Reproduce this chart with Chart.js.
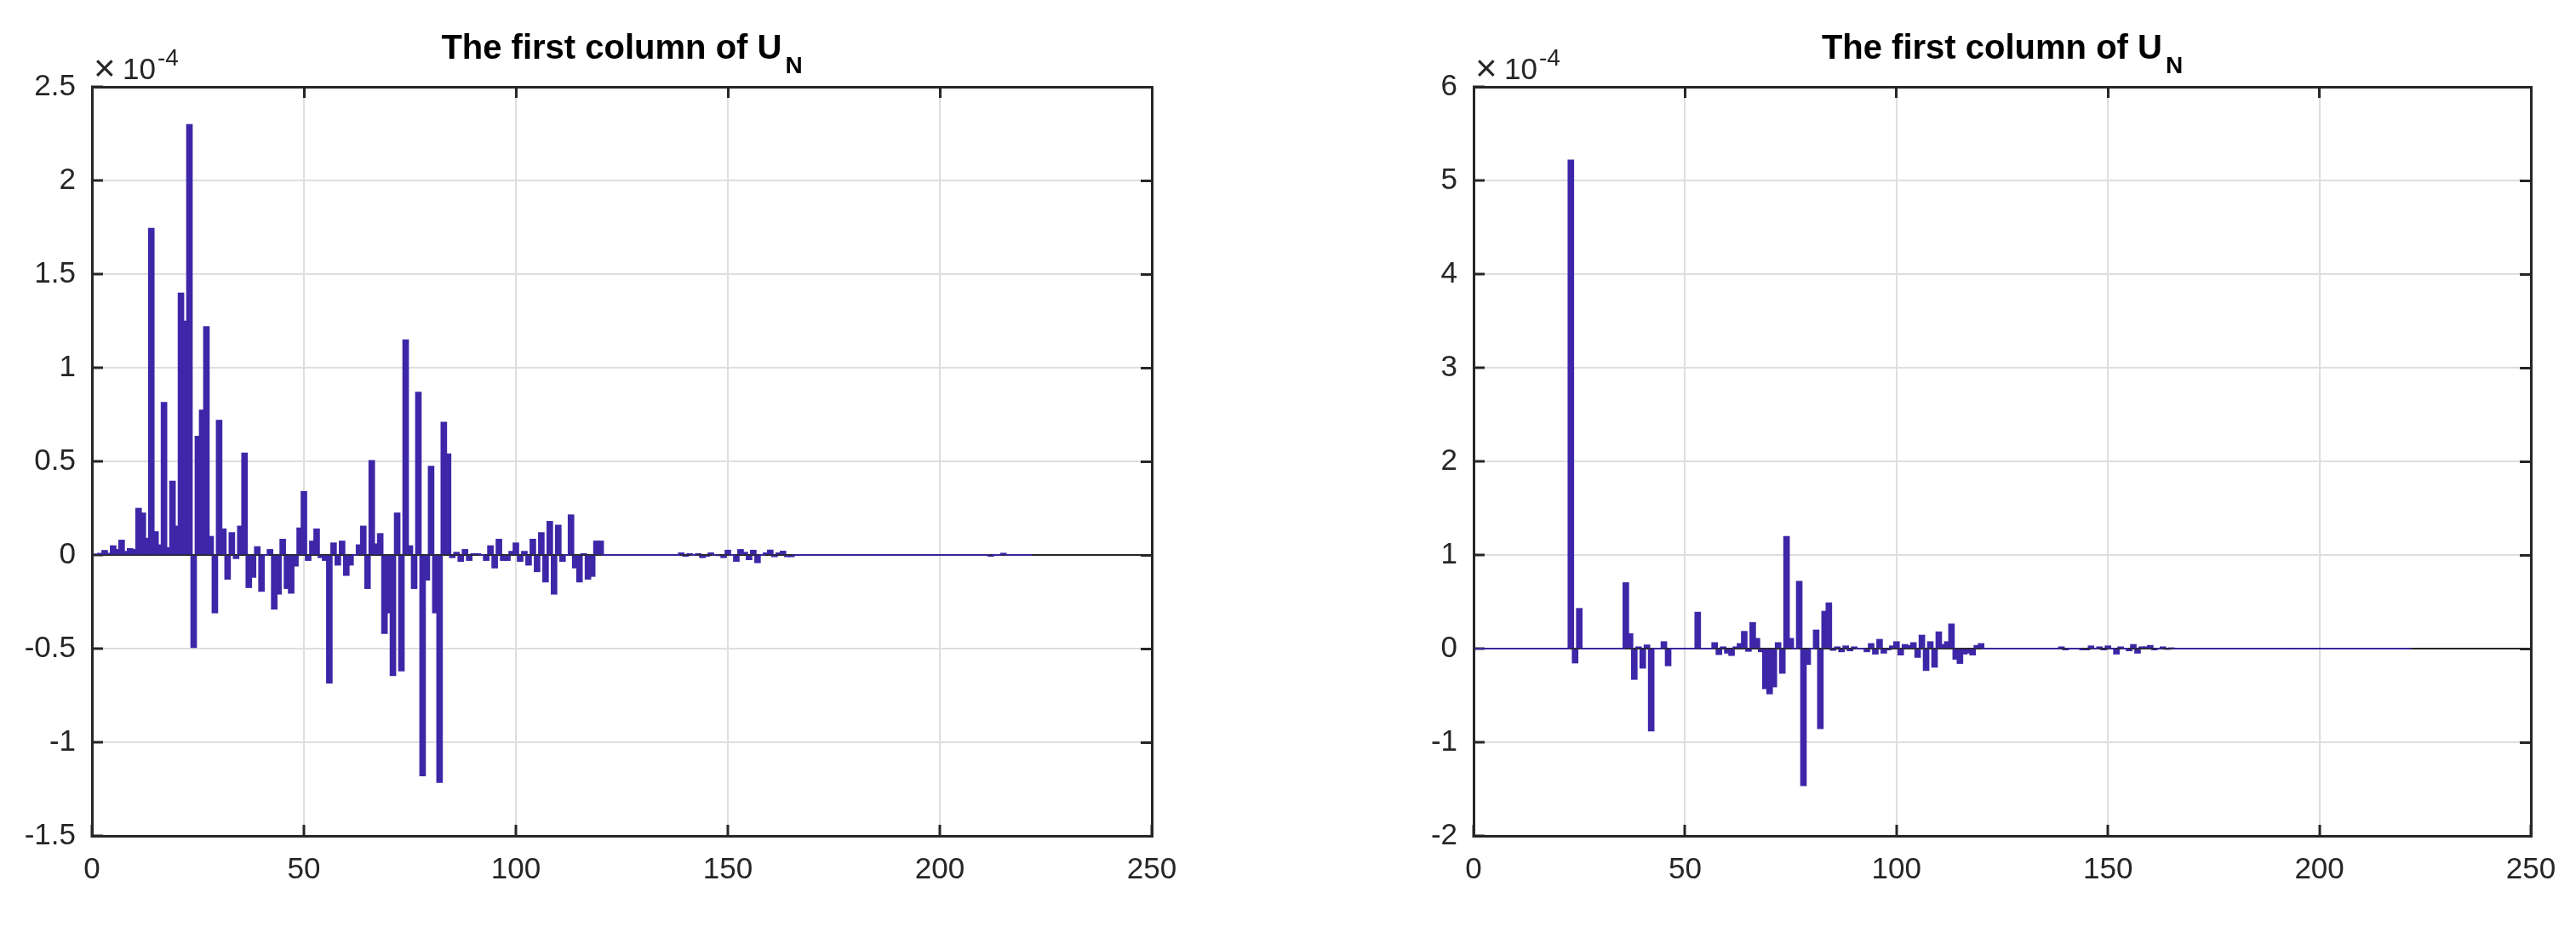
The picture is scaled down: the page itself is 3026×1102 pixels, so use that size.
<!DOCTYPE html>
<html>
<head>
<meta charset="utf-8">
<title>The first column of U_N</title>
<script src="https://cdn.jsdelivr.net/npm/chart.js@4.4.1/dist/chart.umd.min.js"></script>
<style>
  html, body { margin: 0; padding: 0; background: #fff; }
  body { width: 3026px; height: 1102px; position: relative; overflow: hidden; }
  .panel { position: absolute; top: 0; height: 1102px; }
  #left-panel { left: 0; width: 1440px; }
  #right-panel { left: 1500px; width: 1560px; }
</style>
</head>
<body>
<div class="panel" id="left-panel"><canvas id="leftChart"></canvas></div>
<div class="panel" id="right-panel"><canvas id="rightChart"></canvas></div>
<script>
// values are in units of 1e-4 (the axes carry the x10^-4 multiplier)
const xTicks = [0, 50, 100, 150, 200, 250];
const leftYTicks = [-1.5, -1, -0.5, 0, 0.5, 1, 1.5, 2, 2.5];
const rightYTicks = [-2, -1, 0, 1, 2, 3, 4, 5, 6];

// first column of U_N, left panel (entries 1..221)
const leftValues = [
    0.005, 0.01, 0.025, 0.01, 0.05, 0.03, 0.08, 0.02, 0.035, 0.03,
    0.25, 0.225, 0.09, 1.745, 0.125, 0.055, 0.815, 0.04, 0.395, 0.155,
    1.40, 1.25, 2.30, -0.495, 0.635, 0.775, 1.22, 0.10, -0.31, 0.72,
    0.14, -0.13, 0.12, -0.02, 0.155, 0.545, -0.175, -0.12, 0.045, -0.195,
    0, 0.03, -0.29, -0.21, 0.085, -0.18, -0.205, -0.06, 0.145, 0.34,
    -0.03, 0.075, 0.14, -0.015, -0.03, -0.685, 0.065, -0.055, 0.075, -0.11,
    -0.055, 0, 0.055, 0.155, -0.18, 0.505, 0.06, 0.115, -0.42, -0.31,
    -0.645, 0.225, -0.62, 1.15, 0.05, -0.18, 0.87, -1.18, -0.135, 0.475,
    -0.31, -1.215, 0.71, 0.54, -0.015, 0.015, -0.035, 0.03, -0.03, 0.008,
    0.008, 0, -0.03, 0.05, -0.07, 0.085, -0.03, -0.03, 0.02, 0.065,
    -0.035, 0.02, -0.055, 0.085, -0.09, 0.12, -0.145, 0.18, -0.21, 0.16,
    -0.035, 0, 0.215, -0.07, -0.145, 0.008, -0.13, -0.115, 0.075, 0.075,
    0, 0, 0, 0, 0, 0, 0, 0, 0, 0,
    0, 0, 0, 0, 0, 0, 0, 0, 0.012, -0.008,
    0.008, 0, 0.008, -0.015, -0.008, 0.012, 0, -0.004, -0.015, 0.026,
    0, -0.035, 0.03, 0.015, -0.026, 0.026, -0.042, 0, 0.012, 0.027,
    -0.01, 0.012, 0.021, -0.01, -0.01, 0, 0, 0, 0, 0,
    0, 0, 0, 0, 0, 0, 0, 0, 0, 0,
    0, 0, 0, 0, 0, 0, 0, 0, 0, 0,
    0, 0, 0, 0, 0, 0, 0, 0, 0, 0,
    0, 0, 0, 0, 0, 0, 0, 0, 0, 0,
    0, -0.008, 0, 0, 0.01, 0, 0, 0, 0, 0,
    0
];

// first column of U_N, right panel (entries 1..221)
const rightValues = [
    0, 0, 0, 0, 0, 0, 0, 0, 0, 0,
    0, 0, 0, 0, 0, 0, 0, 0, 0, 0,
    0, 0, 5.22, -0.155, 0.43, 0, 0, 0, 0, 0,
    0, 0, 0, 0, 0, 0.705, 0.16, -0.33, 0.02, -0.21,
    0.04, -0.88, 0, 0, 0.075, -0.185, 0, 0, 0, 0,
    0, 0, 0.39, 0, 0, 0, 0.065, -0.065, 0.02, -0.05,
    -0.075, 0.02, 0.055, 0.185, -0.03, 0.28, 0.11, -0.035, -0.43, -0.485,
    -0.41, 0.065, -0.265, 1.20, 0.11, 0, 0.72, -1.465, -0.17, 0,
    0.20, -0.855, 0.40, 0.49, -0.02, 0.02, -0.035, 0.03, -0.025, 0.02,
    0, 0, -0.035, 0.055, -0.06, 0.10, -0.05, -0.015, 0.03, 0.075,
    -0.07, 0.045, 0.035, 0.065, -0.095, 0.145, -0.235, 0.075, -0.2, 0.18,
    0.045, 0.075, 0.265, -0.115, -0.16, -0.06, -0.05, -0.07, 0.035, 0.055,
    0, 0, 0, 0, 0, 0, 0, 0, 0, 0,
    0, 0, 0, 0, 0, 0, 0, 0, 0.02, -0.015,
    0, 0, 0, -0.015, -0.015, 0.03, 0, 0.02, -0.015, 0.03,
    0, -0.06, 0.02, 0, -0.025, 0.045, -0.05, 0.02, 0.02, 0.035,
    -0.015, 0, 0.02, -0.01, 0.01, 0, 0, 0, 0, 0,
    0, 0, 0, 0, 0, 0, 0, 0, 0, 0,
    0, 0, 0, 0, 0, 0, 0, 0, 0, 0,
    0, 0, 0, 0, 0, 0, 0, 0, 0, 0,
    0, 0, 0, 0, 0, 0, 0, 0, 0, 0,
    0, 0, 0, 0, 0, 0, 0, 0, 0, 0,
    0
];

const BAR_COLOR = 'rgb(62, 38, 168)';
const AXIS_COLOR = '#262626';
const GRID_COLOR = '#dedede';
const FONT = '"Liberation Sans", Arial, sans-serif';

// title with subscript + the x10^-4 multiplier above the y axis
const headerPlugin = {
    id: 'header',
    afterDraw(chart, args, opts) {
        const { ctx, chartArea } = chart;
        ctx.save();
        ctx.textBaseline = 'alphabetic';
        ctx.textAlign = 'left';

        ctx.font = 'bold 40px ' + FONT;
        const wMain = ctx.measureText(opts.title).width;
        ctx.font = 'bold 28px ' + FONT;
        const wSub = ctx.measureText(opts.sub).width;
        const cx = (chartArea.left + chartArea.right) / 2;
        const x0 = cx - (wMain + wSub + 4) / 2;
        ctx.fillStyle = '#000';
        ctx.font = 'bold 40px ' + FONT;
        ctx.fillText(opts.title, x0, 69);
        ctx.font = 'bold 28px ' + FONT;
        ctx.fillText(opts.sub, x0 + wMain + 4, 86);

        // "×10" then the raised exponent
        ctx.fillStyle = AXIS_COLOR;
        ctx.font = '44px ' + FONT;
        ctx.fillText('\u00d7', chartArea.left + 2, 95);
        ctx.font = '35px ' + FONT;
        ctx.fillText('10', chartArea.left + 36, 93);
        const wTen = ctx.measureText('10').width;
        ctx.font = '28px ' + FONT;
        ctx.fillText(opts.exp, chartArea.left + 36 + wTen + 2, 77);
        ctx.restore();
    }
};

// padRight is kept larger than the half-width of the last x label plus its padding,
// so the plot's right edge is set by the layout padding alone
function makeChart(canvasId, values, yTicks, yAxisWidth, padRight) {
    const xIndex = values.map((v, i) => i + 1);
    const tickGrid = { tickColor: AXIS_COLOR, tickLength: -13, tickWidth: 3 };
    const border = { display: true, color: AXIS_COLOR, width: 3 };
    const tickFont = { family: FONT, size: 35 };

    return new Chart(document.getElementById(canvasId), {
        type: 'bar',
        data: {
            datasets: [{
                data: values.map((v, i) => ({ x: xIndex[i], y: v })),
                backgroundColor: BAR_COLOR,
                borderWidth: 0,
                barThickness: 7,
                minBarLength: 1
            }]
        },
        plugins: [headerPlugin],
        options: {
            responsive: true,
            maintainAspectRatio: false,
            animation: false,
            layout: { padding: { top: 102, right: padRight, left: 0, bottom: 0 } },
            scales: {
                x: {
                    type: 'linear',
                    position: 'bottom',
                    min: xTicks[0],
                    max: xTicks[xTicks.length - 1],
                    offset: false,
                    afterBuildTicks: s => { s.ticks = xTicks.map(v => ({ value: v })); },
                    afterFit: s => { s.height = 120; },
                    grid: { offset: false, color: GRID_COLOR, lineWidth: 2, ...tickGrid },
                    border: border,
                    ticks: {
                        autoSkip: false, maxRotation: 0, padding: 32,
                        color: AXIS_COLOR, font: tickFont,
                        callback: v => String(v)
                    }
                },
                xTop: {
                    type: 'linear',
                    position: 'top',
                    min: xTicks[0],
                    max: xTicks[xTicks.length - 1],
                    offset: false,
                    afterBuildTicks: s => { s.ticks = xTicks.map(v => ({ value: v })); },
                    afterFit: s => { s.height = 0; },
                    grid: { offset: false, drawOnChartArea: false, ...tickGrid },
                    border: border,
                    ticks: { display: false }
                },
                y: {
                    type: 'linear',
                    position: 'left',
                    min: yTicks[0],
                    max: yTicks[yTicks.length - 1],
                    afterBuildTicks: s => { s.ticks = yTicks.map(v => ({ value: v })); },
                    afterFit: s => { s.width = yAxisWidth; },
                    grid: {
                        color: c => (c.tick && c.tick.value === 0 ? AXIS_COLOR : GRID_COLOR),
                        lineWidth: 2,
                        ...tickGrid
                    },
                    border: border,
                    ticks: {
                        padding: 32, color: AXIS_COLOR, font: tickFont,
                        callback: v => String(v)
                    }
                },
                yRight: {
                    type: 'linear',
                    position: 'right',
                    min: yTicks[0],
                    max: yTicks[yTicks.length - 1],
                    afterBuildTicks: s => { s.ticks = yTicks.map(v => ({ value: v })); },
                    afterFit: s => { s.width = 0; },
                    grid: { drawOnChartArea: false, ...tickGrid },
                    border: border,
                    ticks: { display: false }
                }
            },
            plugins: {
                legend: { display: false },
                tooltip: { enabled: false },
                header: { title: 'The first column of U', sub: 'N', exp: '-4' }
            }
        }
    });
}

makeChart('leftChart', leftValues, leftYTicks, 108, 87);
makeChart('rightChart', rightValues, rightYTicks, 231, 87);
</script>
</body>
</html>
